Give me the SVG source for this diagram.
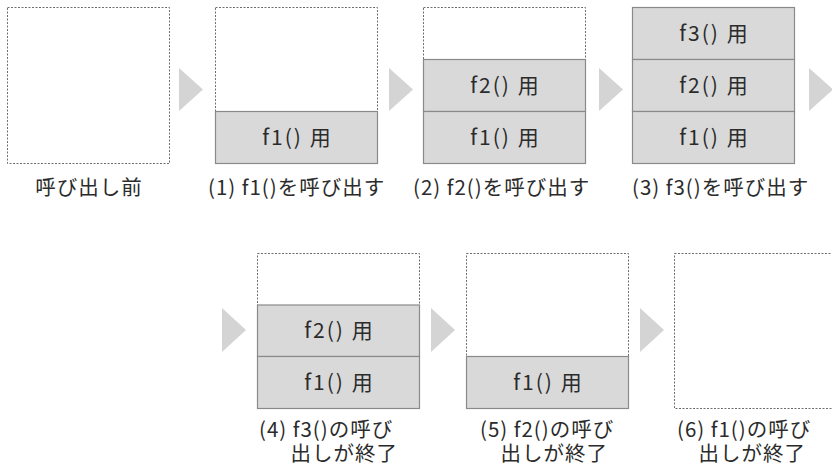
<svg xmlns="http://www.w3.org/2000/svg" width="832" height="467" viewBox="0 0 832 467">
<style>
.frame{fill:#fff;stroke:#6e6e6e;stroke-width:1;stroke-dasharray:2 1.5}
.cell{fill:#d9d9d9;stroke:#8a8a8a;stroke-width:1.2}
.ct{font-family:"Noto Sans CJK JP","Noto Sans",sans-serif;font-size:21px;letter-spacing:2px;fill:#2b2b2b;text-anchor:middle}
.lb{font-family:"Noto Sans CJK JP","Noto Sans",sans-serif;font-size:20.5px;letter-spacing:1px;fill:#2b2b2b}
.arr{fill:#d4d4d4}
</style>
<rect width="832" height="467" fill="#fff"/>
<g id="connectors">
<polygon class="arr" points="179,68 203,89.5 179,111"/>
<polygon class="arr" points="389,68 413,89.5 389,111"/>
<polygon class="arr" points="599,68 623,89.5 599,111"/>
<polygon class="arr" points="809,68 833,89.5 809,111"/>
<polygon class="arr" points="222,308 246,330 222,352"/>
<polygon class="arr" points="431,308 455,330 431,352"/>
<polygon class="arr" points="640,308 664,330 640,352"/>
</g>
<g id="s0">
<rect class="frame" x="7.5" y="7.5" width="162" height="156"/>
<text class="lb" x="89" y="195" text-anchor="middle">呼び出し前</text>
</g>
<g id="s1">
<rect class="frame" x="215.5" y="7.5" width="162" height="156"/>
<rect class="cell" x="215.5" y="111.5" width="162" height="52"/>
<text class="ct" x="297.5" y="145">f1() 用</text>
<text class="lb" x="208" y="195">(1) f1()を呼び出す</text>
</g>
<g id="s2">
<rect class="frame" x="423.5" y="7.5" width="162" height="156"/>
<rect class="cell" x="423.5" y="59.5" width="162" height="52"/>
<rect class="cell" x="423.5" y="111.5" width="162" height="52"/>
<text class="ct" x="505.5" y="93">f2() 用</text>
<text class="ct" x="505.5" y="145">f1() 用</text>
<text class="lb" x="413" y="195">(2) f2()を呼び出す</text>
</g>
<g id="s3">
<rect class="frame" x="632.5" y="7.5" width="162" height="156"/>
<rect class="cell" x="632.5" y="7.5" width="162" height="52"/>
<rect class="cell" x="632.5" y="59.5" width="162" height="52"/>
<rect class="cell" x="632.5" y="111.5" width="162" height="52"/>
<text class="ct" x="714.5" y="41">f3() 用</text>
<text class="ct" x="714.5" y="93">f2() 用</text>
<text class="ct" x="714.5" y="145">f1() 用</text>
<text class="lb" x="632" y="195">(3) f3()を呼び出す</text>
</g>
<g id="s4">
<rect class="frame" x="257.5" y="253.5" width="162" height="155"/>
<rect class="cell" x="257.5" y="305" width="162" height="51.5"/>
<rect class="cell" x="257.5" y="356.5" width="162" height="52"/>
<text class="ct" x="339.5" y="338">f2() 用</text>
<text class="ct" x="339.5" y="390">f1() 用</text>
<text class="lb" x="259" y="437">(4) f3()の呼び</text>
<text class="lb" x="398" y="461" text-anchor="end">出しが終了</text>
</g>
<g id="s5">
<rect class="frame" x="466.5" y="253.5" width="162" height="155"/>
<rect class="cell" x="466.5" y="356.5" width="162" height="52"/>
<text class="ct" x="548.5" y="390">f1() 用</text>
<text class="lb" x="480" y="437">(5) f2()の呼び</text>
<text class="lb" x="608" y="461" text-anchor="end">出しが終了</text>
</g>
<g id="s6">
<rect class="frame" x="674.5" y="253.5" width="162" height="155"/>
<text class="lb" x="677" y="437">(6) f1()の呼び</text>
<text class="lb" x="806" y="461" text-anchor="end">出しが終了</text>
</g>
</svg>
